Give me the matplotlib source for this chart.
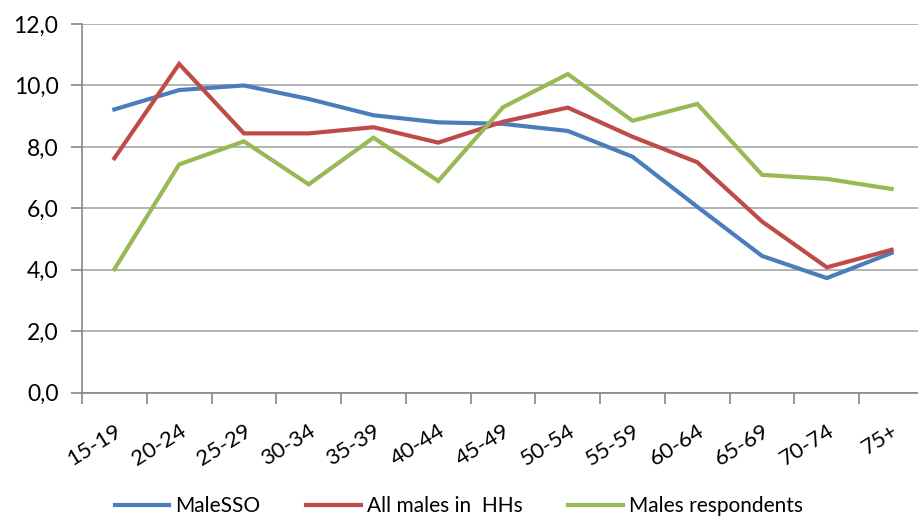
import matplotlib
matplotlib.use("Agg")
import matplotlib.pyplot as plt
from matplotlib.ticker import FixedLocator, FuncFormatter

categories = ["15-19", "20-24", "25-29", "30-34", "35-39", "40-44", "45-49",
              "50-54", "55-59", "60-64", "65-69", "70-74", "75+"]
male_sso = [9.22, 9.85, 10.0, 9.56, 9.03, 8.80, 8.75, 8.52, 7.68, 6.05, 4.45, 3.73, 4.55]
all_males = [7.63, 10.70, 8.44, 8.44, 8.64, 8.14, 8.82, 9.28, 8.33, 7.50, 5.57, 4.08, 4.65]
males_resp = [4.02, 7.43, 8.18, 6.78, 8.30, 6.89, 9.29, 10.37, 8.85, 9.40, 7.09, 6.96, 6.63]
series_names = ["MaleSSO", "All males in  HHs", "Males respondents"]
colors = ["#4A7EBB", "#BE4B48", "#98B954"]

plt.rcParams['font.family'] = ['Lato', 'DejaVu Sans']

fig = plt.figure(figsize=(9.18, 5.19), dpi=100)
W, H = 918, 519
ax = fig.add_axes([82 / W, 1 - 392.7 / H, (918 - 82) / W, (392.7 - 24) / H])

x = list(range(len(categories)))
for vals, name, c in zip([male_sso, all_males, males_resp], series_names, colors):
    ax.plot(x, vals, color=c, lw=3.0, label=name, solid_joinstyle='miter')

ax.set_ylim(0, 12)
ax.set_xlim(-0.5, 12.5 - 6 / 64.8)
ax.set_yticks([0, 2, 4, 6, 8, 10, 12])
ax.yaxis.set_major_formatter(FuncFormatter(lambda v, p: f"{v:.1f}".replace(".", ",")))
ax.grid(axis='y', color='#A6A6A6', lw=1.2)
ax.set_axisbelow(True)

ax.xaxis.set_major_locator(FixedLocator([i - 0.5 for i in range(len(categories))]))
ax.xaxis.set_major_formatter(FuncFormatter(lambda v, p: ""))
ax.xaxis.set_minor_locator(FixedLocator(x))
ax.set_xticklabels(categories, minor=True, rotation=32, ha='right', rotation_mode='anchor', fontsize=16)
ax.tick_params(axis='x', which='minor', length=0, pad=20)
ax.tick_params(axis='x', which='major', length=8, color='#868686', width=1.2)
ax.tick_params(axis='y', length=8, color='#868686', width=1.2, labelsize=16.5, pad=9)

for s in ['top', 'right']:
    ax.spines[s].set_visible(False)
for s in ['left', 'bottom']:
    ax.spines[s].set_color('#868686')
    ax.spines[s].set_linewidth(1.2)

fig.legend(loc='center', bbox_to_anchor=(0.5, 1 - 506 / H), ncol=3, frameon=False,
           fontsize=15, handlelength=2.6, handletextpad=0.3, columnspacing=2.2)

fig.savefig("out.png", dpi=100)
